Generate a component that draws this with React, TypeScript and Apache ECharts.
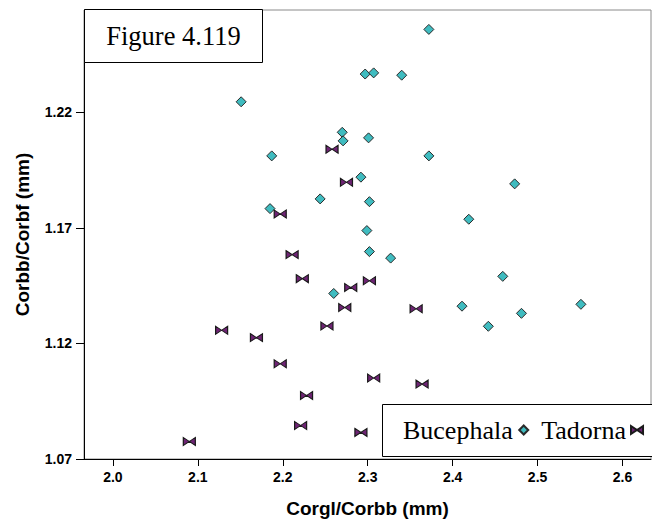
import React, { useEffect, useRef } from "react";
import * as echarts from "echarts";

const seriesNames = ["Bucephala", "Tadorna"];
const figureLabel = "Figure 4.119";
const xTitle = "Corgl/Corbb (mm)";
const yTitle = "Corbb/Corbf (mm)";

const xTicks = [2.0, 2.1, 2.2, 2.3, 2.4, 2.5, 2.6];
const yTicks = [1.07, 1.12, 1.17, 1.22];

const bucephalaX = [2.151, 2.297, 2.307, 2.340, 2.372, 2.270, 2.271, 2.301, 2.187, 2.372, 2.292, 2.473, 2.244, 2.302, 2.185, 2.419, 2.299, 2.302, 2.327, 2.459, 2.260, 2.411, 2.551, 2.481, 2.442];
const bucephalaY = [1.2245, 1.2365, 1.2370, 1.2360, 1.2558, 1.2113, 1.2076, 1.2089, 1.2011, 1.2011, 1.1919, 1.1890, 1.1825, 1.1813, 1.1783, 1.1737, 1.1688, 1.1597, 1.1569, 1.1490, 1.1416, 1.1361, 1.1369, 1.1330, 1.1274];

const tadornaX = [2.258, 2.275, 2.197, 2.211, 2.223, 2.302, 2.280, 2.273, 2.252, 2.357, 2.128, 2.169, 2.197, 2.307, 2.228, 2.364, 2.221, 2.292, 2.090];
const tadornaY = [1.2040, 1.1897, 1.1760, 1.1584, 1.1480, 1.1471, 1.1442, 1.1355, 1.1275, 1.1350, 1.1257, 1.1225, 1.1112, 1.1050, 1.0975, 1.1024, 1.0845, 1.0815, 1.0776];

const BOWTIE = "path://M0,0 L6,4 L12,0 L12,8 L6,4 L0,8 Z";
const DIAMOND = "path://M5,0 L10,5 L5,10 L0,5 Z";
const SANS = '"Liberation Sans", Arial, sans-serif';
const SERIF = '"Liberation Serif", "Times New Roman", serif';

export default function App() {
  const ref = useRef<HTMLDivElement>(null);
  useEffect(() => {
    if (!ref.current) return;
    const chart = echarts.init(ref.current, null, { renderer: "svg" });
    const zip = (xs: number[], ys: number[]) => xs.map((x, i) => [x, ys[i]]);
    chart.setOption({
      animation: false,
      backgroundColor: "#ffffff",
      grid: {
        left: 84,
        right: 1,
        top: 10,
        bottom: 60,
        show: true,
        borderColor: "#8a8a8a",
        borderWidth: 1,
        outerBoundsMode: "none",
      },
      xAxis: {
        type: "value",
        min: 1.966,
        max: 2.6335,
        name: xTitle,
        nameLocation: "middle",
        nameGap: 40,
        nameTextStyle: { fontFamily: SANS, fontWeight: "bold", fontSize: 19, color: "#000" },
        axisLine: { show: true, onZero: false, lineStyle: { color: "#000", width: 1 } },
        axisTick: { show: true, length: 7, customValues: xTicks, lineStyle: { color: "#000" } },
        axisLabel: {
          customValues: xTicks,
          formatter: (v: number) => v.toFixed(1),
          fontFamily: SANS,
          fontWeight: "bold",
          fontSize: 14,
          color: "#000",
          margin: 11,
        },
        splitLine: { show: false },
      },
      yAxis: {
        type: "value",
        min: 1.07,
        max: 1.2642,
        name: yTitle,
        nameLocation: "middle",
        nameGap: 52,
        nameTextStyle: { fontFamily: SANS, fontWeight: "bold", fontSize: 19, color: "#000" },
        axisLine: { show: true, onZero: false, lineStyle: { color: "#000", width: 1 } },
        axisTick: { show: true, length: 8, customValues: yTicks, lineStyle: { color: "#000" } },
        axisLabel: {
          customValues: yTicks,
          formatter: (v: number) => v.toFixed(2),
          fontFamily: SANS,
          fontWeight: "bold",
          fontSize: 14,
          color: "#000",
          margin: 12,
        },
        splitLine: { show: false },
      },
      legend: {
        data: [{ name: seriesNames[0], icon: DIAMOND }, { name: seriesNames[1] }],
        left: 403,
        top: 417,
        align: "right",
        itemGap: 12,
        itemWidth: 12,
        itemHeight: 9,
        symbolKeepAspect: true,
        padding: 0,
        z: 20,
        textStyle: { fontFamily: SERIF, fontSize: 26, color: "#000" },
      },
      graphic: [
        {
          type: "group",
          z: 10,
          children: [
            {
              type: "rect",
              z: 10,
              shape: { x: 84.5, y: 9.5, width: 178, height: 53 },
              style: { fill: "#fff", stroke: "#000", lineWidth: 1 },
            },
            {
              type: "text",
              z: 11,
              x: 173.5,
              y: 36,
              style: {
                text: figureLabel,
                fontFamily: SERIF,
                fontSize: 26.5,
                fill: "#000",
                align: "center",
                verticalAlign: "middle",
              },
            },
            {
              type: "rect",
              z: 10,
              shape: { x: 382.5, y: 404.5, width: 280, height: 52 },
              style: { fill: "#fff", stroke: "#000", lineWidth: 1 },
            },
          ],
        },
      ],
      series: [
        {
          name: seriesNames[0],
          type: "scatter",
          symbol: "diamond",
          symbolSize: 10,
          data: zip(bucephalaX, bucephalaY),
          itemStyle: { color: "#3fbcc0", borderColor: "#2a2a2a", borderWidth: 1, opacity: 1 },
        },
        {
          name: seriesNames[1],
          type: "scatter",
          symbol: BOWTIE,
          symbolSize: [12, 8],
          data: zip(tadornaX, tadornaY),
          itemStyle: { color: "#6e2474", borderColor: "#1a1a1a", borderWidth: 1, opacity: 1 },
        },
      ],
    });
    return () => chart.dispose();
  }, []);
  return <div ref={ref} style={{ width: 652, height: 519, position: "absolute", left: 0, top: 0 }} />;
}
